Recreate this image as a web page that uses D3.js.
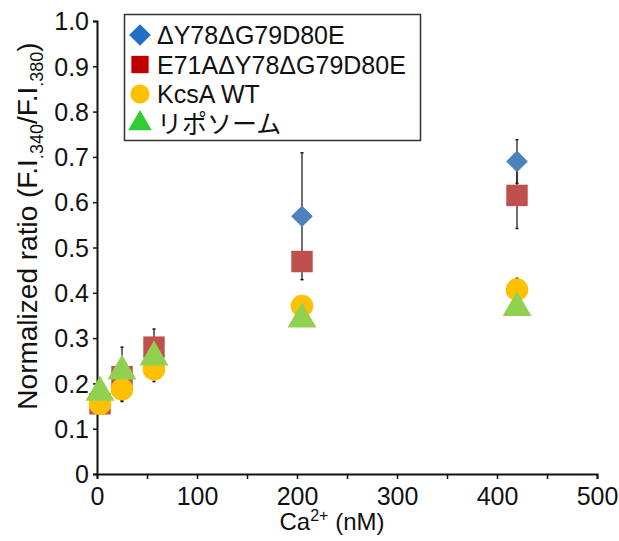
<!DOCTYPE html>
<html>
<head>
<meta charset="utf-8">
<script src="https://cdn.jsdelivr.net/npm/d3@7"></script>
<style>
  body { margin: 0; background: #fff; }
  svg { font-family: "Liberation Sans", Arial, "Noto Sans CJK JP", sans-serif; }
</style>
</head>
<body>
<svg id="chart" width="619" height="541"></svg>
<script>
// Ca2+ concentrations (nM)
const conc = [3, 25, 57, 205, 420];

const seriesNames = ["ΔY78ΔG79D80E", "E71AΔY78ΔG79D80E", "KcsA WT", "リポソーム"];
const mutantVals = [0.155, 0.22, 0.262, 0.569, 0.69];
const mutantErr = [0, 0.06, 0, 0.14, 0.048];
const e71aVals = [0.155, 0.215, 0.28, 0.469, 0.615];
const e71aErr = [0, 0, 0.04, 0, 0.073];
const wtVals = [0.155, 0.187, 0.231, 0.371, 0.407];
const wtErr = [0, 0.025, 0.027, 0, 0.025];
const lipoVals = [0.18, 0.227, 0.258, 0.342, 0.367];
const lipoErr = [0, 0, 0, 0, 0];

const xTicks = [0, 100, 200, 300, 400, 500];
const yTicks = [0, 0.1, 0.2, 0.3, 0.4, 0.5, 0.6, 0.7, 0.8, 0.9, 1.0];

const svg = d3.select("#chart");
const x = d3.scaleLinear().domain([0, 500]).range([97, 597]);
const y = d3.scaleLinear().domain([0, 1]).range([474, 21]);

const series = [
  { name: seriesNames[0], vals: mutantVals, err: mutantErr, shape: d3.symbolDiamond2, size: 300, color: "#4f81bd", legendColor: "#1f6fc5", legendSize: 300 },
  { name: seriesNames[1], vals: e71aVals, err: e71aErr, shape: d3.symbolSquare, size: 460, color: "#c0504d", legendColor: "#c00000", legendSize: 300 },
  { name: seriesNames[2], vals: wtVals, err: wtErr, shape: d3.symbolCircle, size: 400, color: "#ffc000", legendColor: "#ffc000", legendSize: 290 },
  { name: seriesNames[3], vals: lipoVals, err: lipoErr, shape: d3.symbolTriangle, size: 360, color: "#92d050", legendColor: "#33cc33", legendSize: 240 }
];

// axes
const xAxis = svg.append("g")
  .attr("transform", `translate(0,${y(0)})`)
  .call(d3.axisBottom(x).tickValues(d3.range(0, 501, 50)).tickSize(5)
    .tickFormat(d => xTicks.includes(d) ? d : ""));
const yAxis = svg.append("g")
  .attr("transform", `translate(${x(0)},0)`)
  .call(d3.axisLeft(y).tickValues(yTicks).tickSize(4)
    .tickFormat(d => d === 0 ? "0" : d3.format(".1f")(d)));

[xAxis, yAxis].forEach(g => {
  g.select(".domain").attr("stroke", "#111").attr("stroke-width", 2);
  g.selectAll(".tick line").attr("stroke", "#111").attr("stroke-width", 1.5);
  g.selectAll(".tick text").attr("font-size", 25).attr("fill", "#111").attr("font-family", null);
});
xAxis.selectAll(".tick text").attr("dy", null).attr("y", 31);
yAxis.selectAll(".tick text").attr("x", -8).attr("dy", "0.35em");

// error bars
series.forEach(s => {
  const g = svg.append("g");
  conc.forEach((c, i) => {
    if (!s.err[i]) return;
    const y1 = y(s.vals[i] + s.err[i]), y2 = y(s.vals[i] - s.err[i]);
    g.append("line").attr("x1", x(c)).attr("x2", x(c)).attr("y1", y1).attr("y2", y2)
      .attr("stroke", "#111").attr("stroke-width", 1.2);
    [y1, y2].forEach(yy => g.append("line").attr("x1", x(c) - 1.5).attr("x2", x(c) + 1.5)
      .attr("y1", yy).attr("y2", yy).attr("stroke", "#111").attr("stroke-width", 1.5));
  });
});

// markers
series.forEach(s => {
  svg.append("g").selectAll("path").data(conc).join("path")
    .attr("transform", (c, i) => `translate(${x(c)},${y(s.vals[i])})`)
    .attr("d", d3.symbol().type(s.shape).size(s.size))
    .attr("fill", s.color);
});

// legend
const lg = svg.append("g");
lg.append("rect").attr("x", 124.5).attr("y", 14.5).attr("width", 296).attr("height", 126)
  .attr("fill", "#fff").attr("stroke", "#333").attr("stroke-width", 1.5);
series.forEach((s, i) => {
  const cy = 35 + i * 29.5;
  lg.append("path").attr("transform", `translate(140,${cy})`)
    .attr("d", d3.symbol().type(s.shape).size(s.legendSize)).attr("fill", s.legendColor);
  lg.append("text").attr("x", 157).attr("y", cy).attr("dy", "0.36em")
    .attr("font-size", 25).attr("fill", "#111").text(s.name);
});

// axis titles
const xt = svg.append("text").attr("x", 332).attr("y", 530).attr("text-anchor", "middle")
  .attr("font-size", 24).attr("fill", "#111");
xt.append("tspan").text("Ca");
xt.append("tspan").attr("font-size", 16).attr("dy", -9).text("2+");
xt.append("tspan").attr("dy", 9).text(" (nM)");

const yt = svg.append("text").attr("transform", "translate(37,226) rotate(-90)")
  .attr("text-anchor", "middle").attr("font-size", 28).attr("fill", "#111");
yt.append("tspan").text("Normalized ratio (F.I");
yt.append("tspan").attr("font-size", 18).attr("dy", 6).text(".340");
yt.append("tspan").attr("dy", -6).text("/F.I");
yt.append("tspan").attr("font-size", 18).attr("dy", 6).text(".380");
yt.append("tspan").attr("dy", -6).text(")");
</script>
</body>
</html>
